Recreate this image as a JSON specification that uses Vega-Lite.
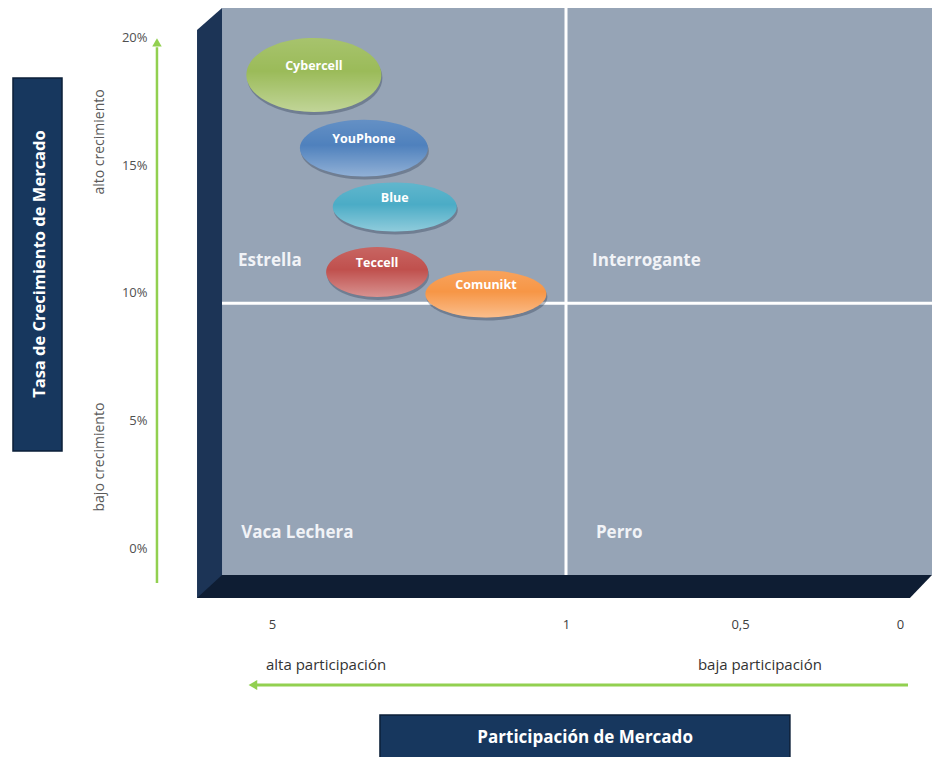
{
  "$schema": "https://vega.github.io/schema/vega-lite/v6.json",
  "width": 710,
  "height": 567,
  "autosize": {"type": "none"},
  "padding": {"left": 222, "top": 8, "right": 0, "bottom": 182},
  "background": "white",
  "config": {
    "view": {"fill": "#96A4B6", "stroke": null},
    "font": "Open Sans",
    "axis": {"grid": false, "ticks": false, "domain": false, "titleOpacity": 0, "labelFont": "Open Sans"}
  },
  "layer": [
    {
      "data": {"values": [
        {"s": 6.02, "top": 20.27, "bot": -1.914},
        {"s": 5.68, "top": 21.133, "bot": -1.914}
      ]},
      "mark": {"type": "area", "color": "#1C3456", "opacity": 1},
      "encoding": {
        "x": {"field": "s", "type": "quantitative",
              "scale": {"domain": [5, 1, 0.5, 0], "range": [50, 344, 518, 678], "nice": false, "zero": false}},
        "y": {"field": "top", "type": "quantitative",
              "scale": {"domain": [-1.016, 21.133], "nice": false, "zero": false}},
        "y2": {"field": "bot"}
      }
    },
    {
      "data": {"values": [
        {"g": -1.016, "xa": 5.68, "xb": -0.1},
        {"g": -1.914, "xa": 6.02, "xb": -0.031}
      ]},
      "mark": {"type": "area", "color": "#0E1D33", "opacity": 1, "orient": "horizontal"},
      "encoding": {
        "y": {"field": "g", "type": "quantitative"},
        "x": {"field": "xa", "type": "quantitative"},
        "x2": {"field": "xb"}
      }
    },
    {
      "data": {"values": [{"limite_participacion": 1}]},
      "mark": {"type": "rule", "color": "white", "strokeWidth": 3},
      "encoding": {"x": {"field": "limite_participacion", "type": "quantitative"}}
    },
    {
      "data": {"values": [{"limite_crecimiento": 9.6}]},
      "mark": {"type": "rule", "color": "white", "strokeWidth": 3},
      "encoding": {"y": {"field": "limite_crecimiento", "type": "quantitative"}}
    },
    {
      "data": {"values": [
        {"cuadrante": "Estrella", "s": 5.463, "g": 11.25},
        {"cuadrante": "Interrogante", "s": 0.925, "g": 11.25},
        {"cuadrante": "Vaca Lechera", "s": 5.42, "g": 0.625},
        {"cuadrante": "Perro", "s": 0.914, "g": 0.625}
      ]},
      "mark": {"type": "text", "align": "left", "baseline": "middle", "color": "#F1F3F7", "fontWeight": "bold", "fontSize": 17},
      "encoding": {
        "x": {"field": "s", "type": "quantitative"},
        "y": {"field": "g", "type": "quantitative"},
        "text": {"field": "cuadrante"}
      }
    },
    {
      "data": {"values": [{"s": 6.565, "g1": -1.33, "g2": 19.6}]},
      "mark": {"type": "rule", "color": "#92D050", "strokeWidth": 2.5},
      "encoding": {
        "x": {"field": "s", "type": "quantitative"},
        "y": {"field": "g1", "type": "quantitative"},
        "y2": {"field": "g2"}
      }
    },
    {
      "data": {"values": [{"g": -5.3125, "x1": -0.025, "x2": 5.24}]},
      "mark": {"type": "rule", "color": "#92D050", "strokeWidth": 3},
      "encoding": {
        "y": {"field": "g", "type": "quantitative"},
        "x": {"field": "x1", "type": "quantitative"},
        "x2": {"field": "x2"}
      }
    },
    {
      "data": {"values": [{"s": 6.565, "g": 19.79}]},
      "mark": {"type": "point", "shape": "triangle-up", "filled": true, "color": "#92D050", "opacity": 1, "size": 90},
      "encoding": {
        "x": {"field": "s", "type": "quantitative"},
        "y": {"field": "g", "type": "quantitative"}
      }
    },
    {
      "data": {"values": [{"s": 5.26, "g": -5.3125}]},
      "mark": {"type": "point", "shape": "triangle-left", "filled": true, "color": "#92D050", "opacity": 1, "size": 100},
      "encoding": {
        "x": {"field": "s", "type": "quantitative"},
        "y": {"field": "g", "type": "quantitative"}
      }
    },
    {
      "data": {"values": [
        {"texto": "alto crecimiento", "s": 7.34, "g": 15.9},
        {"texto": "bajo crecimiento", "s": 7.34, "g": 3.59}
      ]},
      "mark": {"type": "text", "angle": 270, "align": "center", "baseline": "middle", "color": "#595959", "fontSize": 14},
      "encoding": {
        "x": {"field": "s", "type": "quantitative"},
        "y": {"field": "g", "type": "quantitative"},
        "text": {"field": "texto"}
      }
    },
    {
      "data": {"values": [
        {"texto": "alta participación", "s": 5.082, "g": -4.53},
        {"texto": "baja participación", "s": 0.621, "g": -4.53}
      ]},
      "mark": {"type": "text", "align": "left", "baseline": "middle", "color": "#333333", "fontSize": 15},
      "encoding": {
        "x": {"field": "s", "type": "quantitative"},
        "y": {"field": "g", "type": "quantitative"},
        "text": {"field": "texto"}
      }
    },
    {
      "data": {"values": [
        {"xa": 8.524, "xb": 7.857, "ya": 18.40, "yb": 3.83},
        {"xa": 3.531, "xb": 0.344, "ya": -6.484, "yb": -8.3}
      ]},
      "mark": {"type": "rect", "color": "#17375E", "stroke": "#0B1F38", "strokeWidth": 1.5, "opacity": 1},
      "encoding": {
        "x": {"field": "xa", "type": "quantitative"},
        "x2": {"field": "xb"},
        "y": {"field": "ya", "type": "quantitative"},
        "y2": {"field": "yb"}
      }
    },
    {
      "data": {"values": [{"titulo": "Tasa de Crecimiento de Mercado", "s": 8.156, "g": 11.13}]},
      "mark": {"type": "text", "angle": 270, "align": "center", "baseline": "middle", "color": "white", "fontWeight": "bold", "fontSize": 16.5},
      "encoding": {
        "x": {"field": "s", "type": "quantitative"},
        "y": {"field": "g", "type": "quantitative"},
        "text": {"field": "titulo"}
      }
    },
    {
      "data": {"values": [{"titulo": "Participación de Mercado", "s": 0.945, "g": -7.383}]},
      "mark": {"type": "text", "align": "center", "baseline": "middle", "color": "white", "fontWeight": "bold", "fontSize": 17},
      "encoding": {
        "x": {"field": "s", "type": "quantitative"},
        "y": {"field": "g", "type": "quantitative"},
        "text": {"field": "titulo"}
      }
    },
    {
      "data": {"values": [
        {"empresa": "Cybercell", "participacion": 4.43, "crecimiento": 18.52, "ventas": 18225},
        {"empresa": "YouPhone", "participacion": 3.75, "crecimiento": 15.66, "ventas": 16384},
        {"empresa": "Blue", "participacion": 3.33, "crecimiento": 13.36, "ventas": 15376},
        {"empresa": "Teccell", "participacion": 3.57, "crecimiento": 10.82, "ventas": 10404},
        {"empresa": "Comunikt", "participacion": 2.09, "crecimiento": 9.96, "ventas": 14641}
      ]},
      "encoding": {
        "x": {"field": "participacion", "type": "quantitative",
              "scale": {"domain": [5, 1, 0.5, 0], "range": [50, 344, 518, 678], "nice": false, "zero": false},
              "axis": {"title": null, "orient": "bottom", "offset": 43, "values": [5, 1, 0.5, 0],
                       "labelExpr": "replace(toString(datum.value), '.', ',')",
                       "grid": false, "ticks": false, "tickSize": 0, "domain": false, "labelPadding": 0,
                       "labelFontSize": 13, "labelColor": "#404040", "labelBaseline": "top", "labelFlush": false, "labelOverlap": false}},
        "y": {"field": "crecimiento", "type": "quantitative",
              "scale": {"domain": [-1.016, 21.133], "nice": false, "zero": false},
              "axis": {"title": null, "orient": "left", "offset": 75, "values": [0, 5, 10, 15, 20],
                       "labelExpr": "datum.value + '%'",
                       "grid": false, "ticks": false, "tickSize": 0, "domain": false, "labelPadding": 0,
                       "labelFontSize": 13, "labelColor": "#505050", "labelBaseline": "middle", "labelFlush": false, "labelOverlap": false}},
        "shape": {"field": "empresa", "type": "nominal", "legend": null,
                  "scale": {"domain": ["Cybercell", "YouPhone", "Blue", "Teccell", "Comunikt"],
                            "range": [
                              "M-1,0C-1,-0.303,-0.552,-0.548,0,-0.548C0.552,-0.548,1,-0.303,1,0C1,0.303,0.552,0.548,0,0.548C-0.552,0.548,-1,0.303,-1,0Z",
                              "M-1,0C-1,-0.246,-0.552,-0.445,0,-0.445C0.552,-0.445,1,-0.246,1,0C1,0.246,0.552,0.445,0,0.445C-0.552,0.445,-1,0.246,-1,0Z",
                              "M-1,0C-1,-0.218,-0.552,-0.395,0,-0.395C0.552,-0.395,1,-0.218,1,0C1,0.218,0.552,0.395,0,0.395C-0.552,0.395,-1,0.218,-1,0Z",
                              "M-1,0C-1,-0.271,-0.552,-0.49,0,-0.49C0.552,-0.49,1,-0.271,1,0C1,0.271,0.552,0.49,0,0.49C-0.552,0.49,-1,0.271,-1,0Z",
                              "M-1,0C-1,-0.214,-0.552,-0.388,0,-0.388C0.552,-0.388,1,-0.214,1,0C1,0.214,0.552,0.388,0,0.388C-0.552,0.388,-1,0.214,-1,0Z"
                            ]}},
        "size": {"field": "ventas", "type": "quantitative", "legend": null,
                 "scale": {"type": "linear", "domain": [0, 20000], "range": [0, 20000], "zero": true}}
      },
      "layer": [
        {
          "mark": {"type": "point", "filled": true, "color": "#2B3A50", "opacity": 0.35, "yOffset": 3, "xOffset": 1, "strokeWidth": 0}
        },
        {
          "mark": {"type": "point", "filled": true, "opacity": 1, "strokeWidth": 0},
          "encoding": {
            "color": {"field": "empresa", "type": "nominal", "legend": null,
                      "scale": {"domain": ["Cybercell", "YouPhone", "Blue", "Teccell", "Comunikt"],
                                "range": ["#9BBB59", "#4F81BD", "#4BACC6", "#C0504D", "#F79646"]}}
          }
        },
        {
          "mark": {"type": "point", "filled": true, "opacity": 1, "strokeWidth": 0,
                   "fill": {"gradient": "linear", "x1": 0, "y1": 0, "x2": 0, "y2": 1,
                            "stops": [
                              {"offset": 0, "color": "rgba(255,255,255,0.12)"},
                              {"offset": 0.45, "color": "rgba(255,255,255,0)"},
                              {"offset": 1, "color": "rgba(255,255,255,0.38)"}
                            ]}}
        },
        {
          "mark": {"type": "text", "color": "white", "fontWeight": "bold", "fontSize": 12.5, "dy": -9},
          "encoding": {"text": {"field": "empresa"}, "size": {"value": 12.5}, "shape": {"value": "circle"}}
        }
      ]
    }
  ]
}
